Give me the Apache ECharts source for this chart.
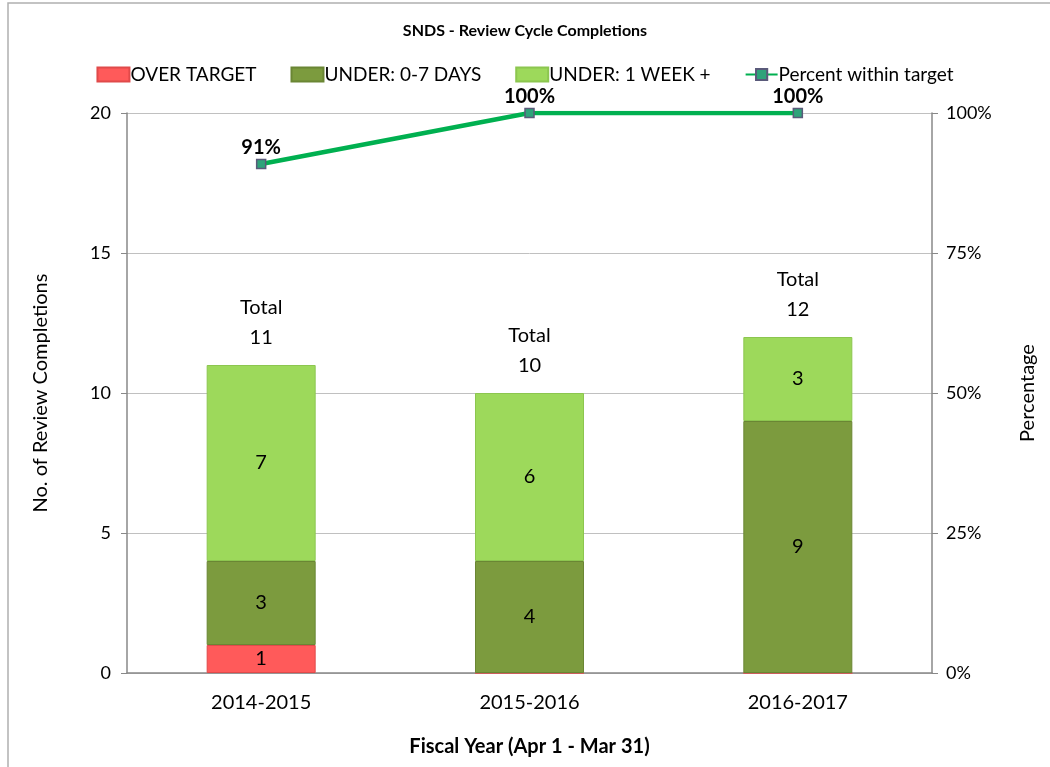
<!DOCTYPE html>
<html>
<head>
<meta charset="utf-8">
<script src="https://cdn.jsdelivr.net/npm/echarts@6/dist/echarts.min.js"></script>
<style>
  html, body { margin: 0; padding: 0; background: #fff; }
  #chart { width: 1050px; height: 767px; }
</style>
</head>
<body>
<div id="chart"></div>
<script>
// data
const years = ['2014-2015', '2015-2016', '2016-2017']
const overTarget = [1, 0, 0]
const under07 = [3, 4, 9]
const underWeek = [7, 6, 3]
const totals = [11, 10, 12]
const pctWithin = [90.9, 100, 100]

const font = 'Lato, "Open Sans", sans-serif'
const axisGray = '#888888'

const myChart = echarts.init(document.getElementById('chart'))

const segLabel = {
  show: true,
  color: '#000',
  fontSize: 20,
  fontFamily: font,
  formatter: p => (p.value ? p.value : '')
}

const option = {
  animation: false,
  textStyle: { fontFamily: font },
  title: {
    text: 'SNDS - Review Cycle Completions',
    left: 'center',
    top: 18,
    textStyle: { fontSize: 16, fontWeight: 'bold', color: '#000', fontFamily: font }
  },
  legend: {
    top: 60,
    left: 'center',
    itemWidth: 32,
    itemHeight: 14,
    itemGap: 34,
    textStyle: { fontSize: 19, color: '#000', fontFamily: font, padding: [0, 0, 0, -4] },
    data: [
      { name: 'OVER TARGET', icon: 'rect' },
      { name: 'UNDER: 0-7 DAYS', icon: 'rect' },
      { name: 'UNDER: 1 WEEK +', icon: 'rect' },
      { name: 'Percent within target' }
    ]
  },
  graphic: [
    {
      type: 'polyline',
      shape: { points: [[8, 767], [8, 3], [1050, 3]] },
      style: { stroke: '#b0b0b0', lineWidth: 1.5, fill: null }
    }
  ],
  grid: { left: 127, right: 118, top: 113, bottom: 94 },
  xAxis: {
    type: 'category',
    data: years,
    name: 'Fiscal Year (Apr 1 - Mar 31)',
    nameLocation: 'middle',
    nameGap: 64,
    nameTextStyle: { fontSize: 20, fontWeight: 'bold', color: '#000', fontFamily: font },
    axisLine: { lineStyle: { color: axisGray, width: 1.5 } },
    axisTick: { show: false },
    axisLabel: { fontSize: 20, color: '#000', margin: 20, fontFamily: font }
  },
  yAxis: [
    {
      type: 'value',
      min: 0,
      max: 20,
      interval: 5,
      name: 'No. of Review Completions',
      nameLocation: 'middle',
      nameGap: 76,
      nameTextStyle: { fontSize: 20, color: '#000', fontFamily: font },
      axisLine: { show: true, lineStyle: { color: axisGray, width: 1.5 } },
      axisTick: { show: true, length: 6, lineStyle: { color: axisGray } },
      axisLabel: { fontSize: 18, color: '#000', margin: 16, fontFamily: font },
      splitLine: { lineStyle: { color: '#c0c0c0', width: 1 } }
    },
    {
      type: 'value',
      min: 0,
      max: 100,
      interval: 25,
      name: 'Percentage',
      nameLocation: 'middle',
      nameGap: 86,
      nameTextStyle: { fontSize: 20, color: '#000', fontFamily: font },
      axisLine: { show: true, lineStyle: { color: axisGray, width: 1.5 } },
      axisTick: { show: true, length: 6, lineStyle: { color: axisGray } },
      axisLabel: { fontSize: 18, color: '#000', margin: 14, formatter: '{value}%', fontFamily: font },
      splitLine: { show: false }
    }
  ],
  series: [
    {
      name: 'OVER TARGET',
      type: 'bar',
      stack: 'total',
      barWidth: 109,
      data: overTarget,
      itemStyle: { color: '#ff5a5a', borderColor: '#e04a4a', borderWidth: 1 },
      label: segLabel
    },
    {
      name: 'UNDER: 0-7 DAYS',
      type: 'bar',
      stack: 'total',
      data: under07,
      itemStyle: { color: '#7c9b3e', borderColor: '#6a8634', borderWidth: 1 },
      label: segLabel
    },
    {
      name: 'UNDER: 1 WEEK +',
      type: 'bar',
      stack: 'total',
      data: underWeek,
      itemStyle: { color: '#9dd95b', borderColor: '#8cc64f', borderWidth: 1 },
      label: segLabel
    },
    {
      // invisible series that carries the "Total" labels on top of each stack
      name: 'totals',
      type: 'bar',
      stack: 'total',
      data: totals.map(() => 0),
      itemStyle: { color: 'transparent' },
      label: {
        show: true,
        position: 'top',
        distance: 12,
        color: '#000',
        fontSize: 20,
        lineHeight: 30,
        fontFamily: font,
        formatter: p => 'Total\n' + totals[p.dataIndex]
      }
    },
    {
      name: 'Percent within target',
      type: 'line',
      yAxisIndex: 1,
      data: pctWithin,
      symbol: 'rect',
      symbolSize: 9,
      lineStyle: { color: '#00b050', width: 4.5 },
      itemStyle: { color: '#2fa37a', borderColor: '#5a5a7a', borderWidth: 1.5 },
      label: {
        show: true,
        position: 'top',
        distance: 1,
        color: '#000',
        fontSize: 20,
        fontWeight: 'bold',
        fontFamily: font,
        formatter: p => Math.round(p.value) + '%'
      },
      z: 5
    }
  ]
}

myChart.setOption(option)
</script>
</body>
</html>
